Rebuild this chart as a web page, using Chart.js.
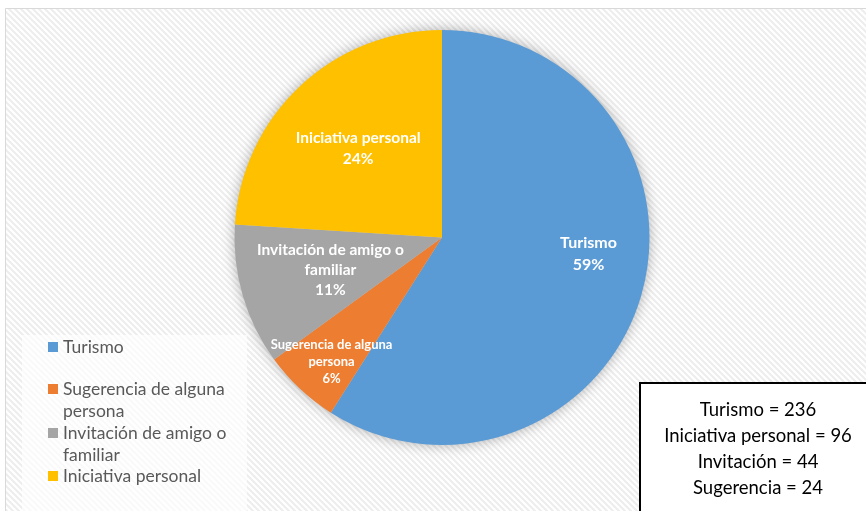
<!DOCTYPE html>
<html>
<head>
<meta charset="utf-8">
<script src="https://cdn.jsdelivr.net/npm/chart.js@4.4.1/dist/chart.umd.min.js"></script>
<style>
  body { margin: 0; background: #fff; }
  canvas { display: block; }
</style>
</head>
<body>
<canvas id="pieChart" width="866" height="511"></canvas>
<script>
// Datos del gráfico
const categories = ['Turismo', 'Sugerencia de alguna persona', 'Invitación de amigo o familiar', 'Iniciativa personal'];
const values = [236, 24, 44, 96];
const percentLabels = ['59%', '6%', '11%', '24%'];
const sliceLabelLines = [
    ['Turismo'],
    ['Sugerencia de alguna', 'persona'],
    ['Invitación de amigo o', 'familiar'],
    ['Iniciativa personal']
];
const legendLines = [
    ['Turismo'],
    ['Sugerencia de alguna', 'persona'],
    ['Invitación de amigo o', 'familiar'],
    ['Iniciativa personal']
];
const boxNames = ['Turismo', 'Iniciativa personal', 'Invitación', 'Sugerencia'];
const boxOrder = [0, 3, 2, 1];

const colors = ['#5B9BD5', '#ED7D31', '#A5A5A5', '#FFC000'];

// Posición de etiquetas (factor de radio, ajuste de ángulo en grados)
const labelStyle = [
    { r: 0.71, shift: -10, size: 16, lh: 22 },
    { r: 0.80, shift: -1.5, size: 13, lh: 17 },
    { r: 0.56, shift: 0, size: 15.5, lh: 20 },
    { r: 0.59, shift: 0, size: 15.5, lh: 21 }
];

function makeHatch() {
    const c = document.createElement('canvas');
    c.width = 6; c.height = 6;
    const g = c.getContext('2d');
    g.fillStyle = '#ffffff';
    g.fillRect(0, 0, 6, 6);
    g.strokeStyle = '#ededed';
    g.lineWidth = 2;
    g.beginPath();
    g.moveTo(-1, -1); g.lineTo(7, 7);
    g.moveTo(-7, -1); g.lineTo(1, 7);
    g.moveTo(5, -1); g.lineTo(13, 7);
    g.stroke();
    return c;
}

const backgroundPlugin = {
    id: 'fondo',
    beforeDraw(chart) {
        const ctx = chart.ctx;
        ctx.save();
        ctx.fillStyle = '#ffffff';
        ctx.fillRect(0, 0, chart.width, chart.height);
        ctx.fillStyle = ctx.createPattern(makeHatch(), 'repeat');
        ctx.fillRect(5, 8, chart.width - 5, chart.height - 8);
        ctx.strokeStyle = '#d9d9d9';
        ctx.lineWidth = 1;
        ctx.beginPath();
        ctx.moveTo(5.5, chart.height);
        ctx.lineTo(5.5, 8.5);
        ctx.lineTo(chart.width, 8.5);
        ctx.stroke();
        ctx.restore();
    },
    beforeDatasetsDraw(chart) {
        // sombra suave alrededor del pastel
        const arc = chart.getDatasetMeta(0).data[0];
        if (!arc) return;
        const ctx = chart.ctx;
        ctx.save();
        ctx.shadowColor = 'rgba(0,0,0,0.35)';
        ctx.shadowBlur = 14;
        ctx.fillStyle = '#cccccc';
        ctx.beginPath();
        ctx.arc(arc.x, arc.y, arc.outerRadius - 1, 0, Math.PI * 2);
        ctx.fill();
        ctx.restore();
    }
};

const labelsPlugin = {
    id: 'etiquetas',
    afterDatasetsDraw(chart) {
        const ctx = chart.ctx;
        const meta = chart.getDatasetMeta(0);
        ctx.save();
        ctx.fillStyle = '#ffffff';
        ctx.textAlign = 'center';
        ctx.textBaseline = 'middle';
        meta.data.forEach((arc, i) => {
            const st = labelStyle[i];
            const mid = (arc.startAngle + arc.endAngle) / 2 + st.shift * Math.PI / 180;
            const x = arc.x + Math.cos(mid) * arc.outerRadius * st.r;
            const y = arc.y + Math.sin(mid) * arc.outerRadius * st.r;
            const lines = sliceLabelLines[i].concat([percentLabels[i]]);
            ctx.font = 'bold ' + st.size + 'px Lato';
            const top = y - (lines.length - 1) * st.lh / 2;
            lines.forEach((line, k) => ctx.fillText(line, x, top + k * st.lh));
        });
        ctx.restore();
    },
    afterDraw(chart) {
        const ctx = chart.ctx;
        ctx.save();
        // Leyenda
        ctx.fillStyle = 'rgba(255,255,255,0.65)';
        ctx.fillRect(22, 335, 225, 176);
        const itemTops = [347, 389, 433, 476];
        ctx.font = '17.5px Lato';
        ctx.textAlign = 'left';
        ctx.textBaseline = 'middle';
        legendLines.forEach((lines, i) => {
            ctx.fillStyle = colors[i];
            ctx.fillRect(48, itemTops[i] - 5, 10, 10);
            ctx.fillStyle = '#595959';
            lines.forEach((line, k) => ctx.fillText(line, 63, itemTops[i] + k * 22));
        });
        // Cuadro de totales
        ctx.fillStyle = '#ffffff';
        ctx.fillRect(640, 383, 240, 140);
        ctx.strokeStyle = '#000000';
        ctx.lineWidth = 2;
        ctx.strokeRect(640, 383, 240, 140);
        ctx.fillStyle = '#000000';
        ctx.textAlign = 'center';
        ctx.font = '18.5px Lato';
        boxOrder.forEach((idx, k) => {
            ctx.fillText(boxNames[k] + ' = ' + values[idx], 758, 410 + k * 26);
        });
        ctx.restore();
    }
};

const ctx = document.getElementById('pieChart').getContext('2d');
new Chart(ctx, {
    type: 'pie',
    data: {
        labels: categories,
        datasets: [{
            data: values,
            backgroundColor: colors,
            borderWidth: 0
        }]
    },
    options: {
        responsive: false,
        animation: false,
        layout: {
            padding: { top: 30, bottom: 66, left: 234, right: 216 }
        },
        plugins: {
            legend: { display: false },
            tooltip: { enabled: false }
        }
    },
    plugins: [backgroundPlugin, labelsPlugin]
});
</script>
</body>
</html>
